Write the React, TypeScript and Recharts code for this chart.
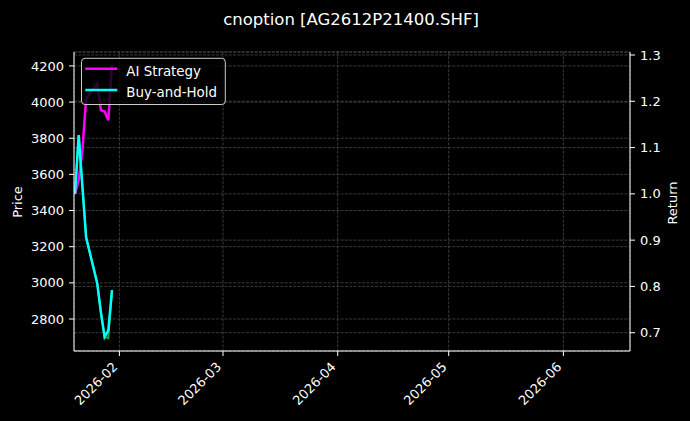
import React from 'react';
import { ComposedChart, Line, XAxis, YAxis, CartesianGrid } from 'recharts';

// ---- data ----
const dates = ['2026-01-20', '2026-01-21', '2026-01-22', '2026-01-23', '2026-01-26', '2026-01-27', '2026-01-28', '2026-01-29', '2026-01-30'];
const aiStrategy = [1.0, 1.03, 1.094, 1.205, 1.239, 1.181, 1.178, 1.159, 1.278];
const buyAndHold = [1.0, 1.127, 1.016, 0.906, 0.807, 0.744, 0.691, 0.705, 0.792];
const price = [3494, 3817, 3535, 3253, 2997, 2838, 2700, 2694, 2960];
const monthTicks = ['2026-02-01', '2026-03-01', '2026-04-01', '2026-05-01', '2026-06-01'];
const priceTicks = [2800, 3000, 3200, 3400, 3600, 3800, 4000, 4200];
const returnTicks = [0.7, 0.8, 0.9, 1.0, 1.1, 1.2, 1.3];
const xRange = ['2026-01-19T17:30:00Z', '2026-06-19T00:00:00Z'];
const priceRange = [2623, 4277];
const returnRange = [0.6605, 1.3065];
const seriesList = [
  { key: 'ai', name: 'AI Strategy', color: '#ff00ff' },
  { key: 'bh', name: 'Buy-and-Hold', color: '#00ffff' },
];
const titleText = 'cnoption [AG2612P21400.SHF]';

const toMs = (s: string) => Date.parse(s.length === 10 ? s + 'T00:00:00Z' : s);

const data = dates.map((d, i) => ({
  t: toMs(d),
  ai: aiStrategy[i],
  bh: buyAndHold[i],
  price: price[i],
}));

const xDomain = xRange.map(toMs);
const xTicks = monthTicks.map(toMs);

const FONT = 'DejaVu Sans';
const GRID = '#474747';

const pad2 = (n: number) => (n < 10 ? '0' + n : '' + n);
const fmtMonth = (v: number) => {
  const d = new Date(v);
  return `${d.getUTCFullYear()}-${pad2(d.getUTCMonth() + 1)}`;
};

const XTick = (props: any) => {
  const { x, y, payload } = props;
  const px = x - 1;
  const py = y + 6.7;
  return (
    <text
      x={px}
      y={py}
      transform={`rotate(-45 ${px} ${py})`}
      textAnchor="end"
      fill="#ffffff"
      fontSize={13}
      fontFamily={FONT}
    >
      {fmtMonth(payload.value)}
    </text>
  );
};

const tickStyle = { fill: '#ffffff', fontSize: 13, fontFamily: FONT };

export default function App() {
  return (
    <div style={{ position: 'absolute', left: 0, top: 0, width: 690, height: 421, background: '#000' }}>
      <ComposedChart
        width={690}
        height={421}
        data={data}
        margin={{ top: 52, right: 0, bottom: 0, left: 0 }}
        style={{ background: '#000' }}
      >
        <CartesianGrid
          xAxisId="x"
          yAxisId="price"
          stroke={GRID}
          strokeWidth={0.8}
          strokeDasharray="3 1.3"
        />
        <CartesianGrid
          xAxisId="x"
          yAxisId="ret"
          vertical={false}
          stroke={GRID}
          strokeWidth={0.8}
          strokeDasharray="3 1.3"
        />
        <XAxis
          xAxisId="x"
          dataKey="t"
          type="number"
          domain={xDomain}
          ticks={xTicks}
          allowDataOverflow
          height={70}
          tick={<XTick />}
          tickSize={5}
          tickMargin={5}
          tickLine={{ stroke: '#ffffff' }}
          axisLine={{ stroke: '#ffffff' }}
          interval={0}
        />
        <XAxis
          xAxisId="top"
          orientation="top"
          dataKey="t"
          type="number"
          domain={xDomain}
          allowDataOverflow
          height={0}
          tick={false}
          tickLine={false}
          axisLine={{ stroke: '#ffffff' }}
        />
        <YAxis
          yAxisId="price"
          orientation="left"
          width={74}
          type="number"
          domain={priceRange}
          ticks={priceTicks}
          allowDataOverflow
          interval={0}
          tick={tickStyle}
          tickSize={5}
          tickMargin={5}
          tickLine={{ stroke: '#ffffff' }}
          axisLine={{ stroke: '#ffffff' }}
        />
        <YAxis
          yAxisId="ret"
          orientation="right"
          width={60}
          type="number"
          domain={returnRange}
          ticks={returnTicks}
          allowDataOverflow
          interval={0}
          tickFormatter={(v: number) => v.toFixed(1)}
          tick={tickStyle}
          tickSize={5}
          tickMargin={5}
          tickLine={{ stroke: '#ffffff' }}
          axisLine={{ stroke: '#ffffff' }}
        />
        <Line
          xAxisId="x"
          yAxisId="price"
          dataKey="price"
          name="Price"
          stroke="#2ca02c"
          strokeWidth={2}
          dot={false}
          activeDot={false}
          legendType="none"
          isAnimationActive={false}
        />
        {seriesList.map((s) => (
          <Line
            key={s.key}
            xAxisId="x"
            yAxisId="ret"
            dataKey={s.key}
            name={s.name}
            stroke={s.color}
            strokeWidth={2.5}
            dot={false}
            activeDot={false}
            isAnimationActive={false}
          />
        ))}
      </ComposedChart>
      <svg
        width={690}
        height={421}
        style={{ position: 'absolute', left: 0, top: 0, pointerEvents: 'none' }}
      >
        <text x={351} y={24.5} textAnchor="middle" fill="#ffffff" fontSize={16.5} fontFamily={FONT}>
          {titleText}
        </text>
        <text
          x={17}
          y={202}
          transform="rotate(-90 17 202)"
          textAnchor="middle"
          dominantBaseline="central"
          fill="#ffffff"
          fontSize={13}
          fontFamily={FONT}
        >
          Price
        </text>
        <text
          x={672.5}
          y={203}
          transform="rotate(-90 672.5 203)"
          textAnchor="middle"
          dominantBaseline="central"
          fill="#ffffff"
          fontSize={13}
          fontFamily={FONT}
        >
          Return
        </text>
        <rect
          x={81.5}
          y={58.3}
          width={143.8}
          height={46.2}
          rx={3.5}
          ry={3.5}
          fill="rgba(0,0,0,0.8)"
          stroke="#cccccc"
          strokeWidth={1}
        />
        {seriesList.map((s, i) => {
          const cy = 68.7 + i * 21.3;
          return (
            <g key={s.key}>
              <line x1={85.3} x2={117.3} y1={cy} y2={cy} stroke={s.color} strokeWidth={2.5} />
              <text x={126.3} y={cy + 7.3} fill="#ffffff" fontSize={13.4} fontFamily={FONT}>
                {s.name}
              </text>
            </g>
          );
        })}
      </svg>
    </div>
  );
}
